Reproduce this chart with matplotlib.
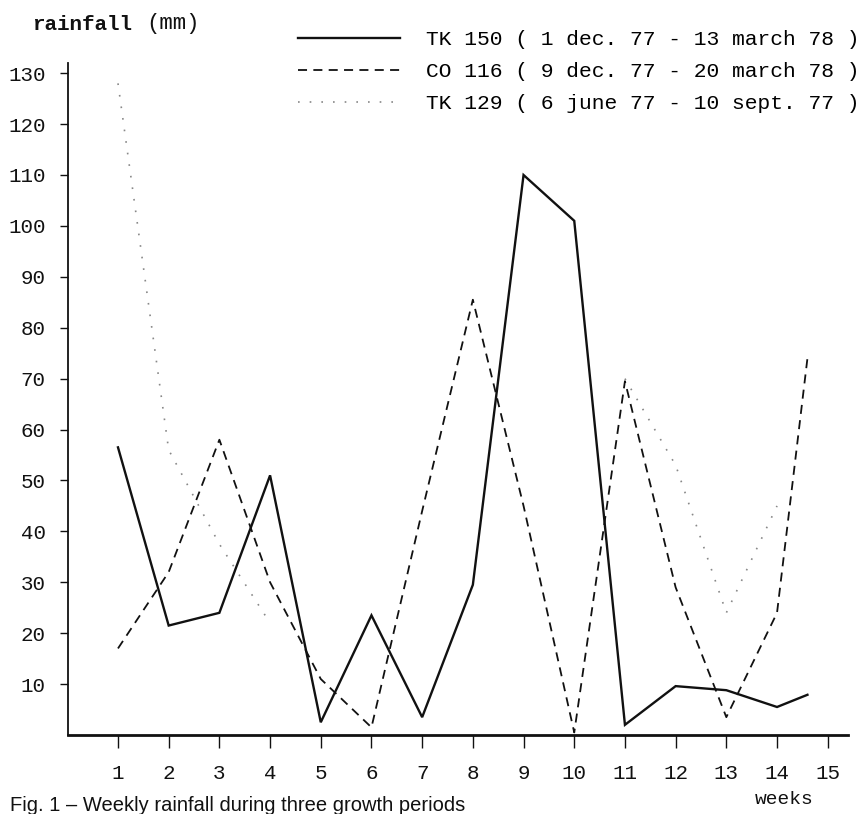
import matplotlib
matplotlib.use('Agg')
import matplotlib.pyplot as plt
import numpy as np

# ---- data ----
weeks = [1, 2, 3, 4, 5, 6, 7, 8, 9, 10, 11, 12, 13, 14, 14.6]
tk150 = [56.5, 21.5, 24, 51, 2.5, 23.5, 3.5, 29.5, 110, 101, 2, 9.6, 8.8, 5.5, 7.9]
co116 = [17, 32, 58, 30, 11, 1.5, 44, 85.5, 45, 0.5, 69.5, 29, 3.5, 24, 74]
tk129_weeks = [1, 2, 3, 4, 5, 6, 7, 8, 9, 10, 11, 12, 13, 14]
tk129 = [128, 56, 37.5, 22, np.nan, np.nan, np.nan, np.nan, np.nan, np.nan, 70, 53, 24, 45]

labels = ["TK 150 ( 1 dec. 77 - 13 march 78 )",
          "CO 116 ( 9 dec. 77 - 20 march 78 )",
          "TK 129 ( 6 june 77 - 10 sept. 77 )"]
xticks = list(range(1, 16))
yticks = list(range(10, 131, 10))

MONO = 'Liberation Mono'
W, H = 867, 814

fig = plt.figure(figsize=(W / 100, H / 100), dpi=100)
fig.patch.set_facecolor('white')
left_px, right_px, top_px, bottom_px = 68, 848, 63, 735
ax = fig.add_axes([left_px / W, 1 - bottom_px / H, (right_px - left_px) / W, (bottom_px - top_px) / H])

l1, = ax.plot(weeks, tk150, color='#111111', lw=1.7, solid_joinstyle='miter')
l2, = ax.plot(weeks, co116, color='#111111', lw=1.3, linestyle=(0, (5, 3.5)))
l3, = ax.plot(tk129_weeks, tk129, color='#888888', lw=1.2, linestyle=(0, (1, 6)))

ax.set_xlim(0.014, 15.4)
ax.set_ylim(0, 132)
for s in ['top', 'right']:
    ax.spines[s].set_visible(False)
ax.spines['left'].set_linewidth(1.3)
ax.spines['bottom'].set_linewidth(2.0)
ax.spines['left'].set_color('#111111')
ax.spines['bottom'].set_color('#111111')

ax.set_xticks(xticks)
ax.set_xticklabels([str(t) for t in xticks], family=MONO, fontsize=15)
ax.set_yticks(yticks)
ax.set_yticklabels([str(t) for t in yticks], family=MONO, fontsize=15)
ax.tick_params(axis='x', direction='out', length=9, width=1, pad=12, colors='#111111')
ax.tick_params(axis='y', direction='out', length=6, width=1, pad=10, colors='#111111')

fig.legend([l1, l2, l3], labels, loc='upper left',
           bbox_to_anchor=(298 / W, 1 - 30 / H), frameon=False,
           prop={'family': MONO, 'size': 15.3}, handlelength=4.8,
           handletextpad=1.2, labelspacing=0.62, borderaxespad=0, borderpad=0)

fig.text(32 / W, 1 - 24 / H, 'rainfall', family=MONO, fontsize=15,
         fontweight='bold', va='center', ha='left', color='#111111')
fig.text(146 / W, 1 - 24 / H, '(mm)', family=MONO, fontsize=16,
         va='center', ha='left', color='#111111')

fig.text(784 / W, 1 - 800 / H, 'weeks', family=MONO, fontsize=14,
         va='center', ha='center', color='#111111')
fig.text(10 / W, 1 - 811 / H, 'Fig. 1 \u2013 Weekly rainfall during three growth periods',
         family='Liberation Sans', fontsize=14.5, va='baseline', ha='left', color='#111111')

fig.savefig('out.png', dpi=100)
